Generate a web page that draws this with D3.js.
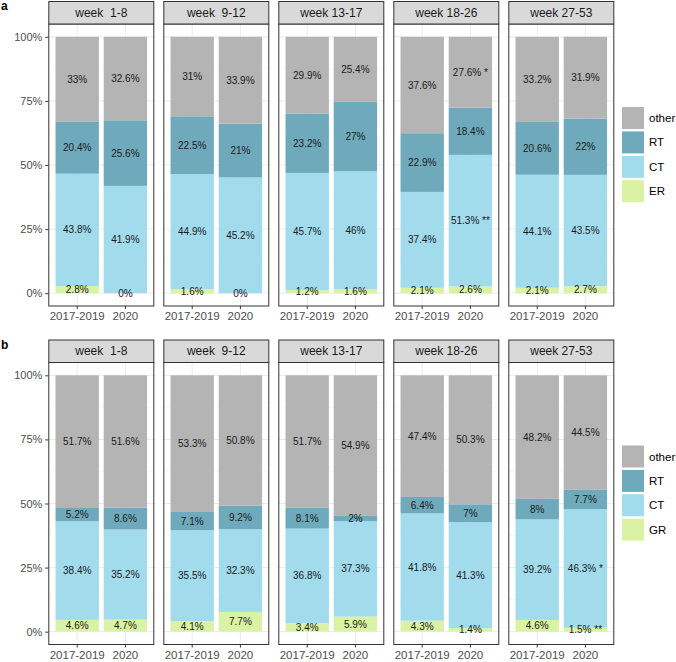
<!DOCTYPE html>
<html><head><meta charset="utf-8">
<script src="https://cdn.jsdelivr.net/npm/d3@7"></script>
<style>body{margin:0;background:#fff} svg{font-family:"Liberation Sans", Arial, sans-serif}</style>
</head><body><svg id="c" width="676" height="662"></svg>
<script>
// ---------- DATA ----------
const weeks = ["week  1-8", "week  9-12", "week 13-17", "week 18-26", "week 27-53"];
const periods = ["2017-2019", "2020"];
const yTicks = [0, 0.25, 0.5, 0.75, 1];

// Panel a (stack order bottom -> top): ER, CT, RT, other ; values ordered week-major, period-minor
const catsA = ["ER", "CT", "RT", "other"];
const aER    = [2.8, 0,    1.6, 0,    1.2, 1.6,  2.1, 2.6,  2.1, 2.7];
const aCT    = [43.8, 41.9, 44.9, 45.2, 45.7, 46,  37.4, 51.3, 44.1, 43.5];
const aRT    = [20.4, 25.6, 22.5, 21,   23.2, 27,  22.9, 18.4, 20.6, 22];
const aOther = [33,  32.6,  31,  33.9,  29.9, 25.4, 37.6, 27.6, 33.2, 31.9];
const aMarks = {CT: ["", "", "", "", "", "", "", " **", "", ""],
                other: ["", "", "", "", "", "", "", " *", "", ""]};

// Panel b: GR, CT, RT, other
const catsB = ["GR", "CT", "RT", "other"];
const bGR    = [4.6, 4.7,  4.1, 7.7,  3.4, 5.9,  4.3, 1.4,  4.6, 1.5];
const bCT    = [38.4, 35.2, 35.5, 32.3, 36.8, 37.3, 41.8, 41.3, 39.2, 46.3];
const bRT    = [5.2, 8.6,  7.1, 9.2,  8.1, 2,    6.4, 7,    8, 7.7];
const bOther = [51.7, 51.6, 53.3, 50.8, 51.7, 54.9, 47.4, 50.3, 48.2, 44.5];
const bMarks = {GR: ["", "", "", "", "", "", "", "", "", " **"],
                CT: ["", "", "", "", "", "", "", "", "", " *"]};

const colors = {other: "#b4b4b4", RT: "#6eaabb", CT: "#a1dbec", ER: "#daf2a4", GR: "#daf2a4"};

// ---------- DRAW ----------
const svg = d3.select("#c");

function drawPanel(top, tag, cats, series, marks) {
  const g = svg.append("g");
  const stripH = 23, plotTop = top + stripH, plotBottom = top + 305;
  const fx = d3.scaleBand().domain(weeks).range([48.3, 614.3]).paddingInner(9 / 115).paddingOuter(0);
  const xb = d3.scaleBand().domain(periods).range([0, fx.bandwidth()]).paddingInner(0.1).paddingOuter(0.15);
  const y = d3.scaleLinear().domain([-0.05, 1.05]).range([plotBottom, plotTop]);

  // panel label
  g.append("text").attr("x", 1).attr("y", top + 9).attr("font-weight", "bold").attr("font-size", 12)
    .attr("fill", "#000").text(tag);

  weeks.forEach((w, wi) => {
    const x0 = fx(w), W = fx.bandwidth();
    const pg = g.append("g").attr("transform", `translate(${x0},0)`);
    // background
    pg.append("rect").attr("x", 0).attr("y", plotTop).attr("width", W).attr("height", plotBottom - plotTop).attr("fill", "#fff");
    // minor grid
    [0.125, 0.375, 0.625, 0.875].forEach(t => {
      pg.append("line").attr("x1", 0).attr("x2", W).attr("y1", y(t)).attr("y2", y(t)).attr("stroke", "#f2f2f2").attr("stroke-width", 0.5);
    });
    // major grid
    yTicks.forEach(t => {
      pg.append("line").attr("x1", 0).attr("x2", W).attr("y1", y(t)).attr("y2", y(t)).attr("stroke", "#ebebeb").attr("stroke-width", 1);
    });
    periods.forEach(p => {
      const cx = xb(p) + xb.bandwidth() / 2;
      pg.append("line").attr("x1", cx).attr("x2", cx).attr("y1", plotTop).attr("y2", plotBottom).attr("stroke", "#ebebeb").attr("stroke-width", 1);
    });
    // bars
    periods.forEach((p, pi) => {
      const idx = wi * 2 + pi;
      const vals = cats.map(c => series[c][idx]);
      const total = d3.sum(vals);
      let cum = 0;
      cats.forEach((c, ci) => {
        const v = vals[ci] / total;
        const y1 = cum, y2 = cum + v;
        cum = y2;
        pg.append("rect").attr("x", xb(p)).attr("width", xb.bandwidth())
          .attr("y", y(y2)).attr("height", Math.max(0, y(y1) - y(y2))).attr("fill", colors[c]);
      });
      cum = 0;
      cats.forEach((c, ci) => {
        const v = vals[ci] / total;
        const mid = cum + v / 2;
        cum += v;
        const mk = marks[c] ? marks[c][idx] : "";
        pg.append("text").attr("x", xb(p) + xb.bandwidth() / 2).attr("y", y(mid)).attr("dy", "0.35em")
          .attr("text-anchor", "middle").attr("font-size", 10).attr("fill", "#1a1a1a")
          .text(vals[ci] + "%" + mk);
      });
    });
    // border
    pg.append("rect").attr("x", 0.5).attr("y", plotTop).attr("width", W - 1).attr("height", plotBottom - plotTop)
      .attr("fill", "none").attr("stroke", "#333").attr("stroke-width", 1);
    // strip
    pg.append("rect").attr("x", 0.5).attr("y", top + 0.5).attr("width", W - 1).attr("height", stripH - 0.5)
      .attr("fill", "#d9d9d9").attr("stroke", "#333").attr("stroke-width", 1);
    pg.append("text").attr("x", W / 2).attr("y", top + stripH / 2 + 4.3).attr("text-anchor", "middle")
      .attr("font-size", 12).attr("fill", "#1a1a1a").style("white-space", "pre").text(w);
    // x axis
    const xa = pg.append("g").attr("transform", `translate(0,${plotBottom})`)
      .call(d3.axisBottom(xb).tickSize(3).tickPadding(3));
    xa.select(".domain").remove();
    xa.selectAll("line").attr("stroke", "#333");
    xa.selectAll("text").attr("font-size", 11.5).attr("fill", "#4d4d4d").attr("font-family", "Liberation Sans, Arial, sans-serif");
  });

  // y axis
  const ya = g.append("g").attr("transform", `translate(${fx(weeks[0])},0)`)
    .call(d3.axisLeft(y).tickValues(yTicks).tickFormat(d3.format(".0%")).tickSize(3).tickPadding(3));
  ya.select(".domain").remove();
  ya.selectAll("line").attr("stroke", "#333");
  ya.selectAll("text").attr("font-size", 11).attr("fill", "#4d4d4d").attr("font-family", "Liberation Sans, Arial, sans-serif");

  // legend (top -> bottom: reversed stack order)
  const legCats = cats.slice().reverse();
  const lg = g.append("g").attr("transform", `translate(622,${top + 106})`);
  legCats.forEach((c, i) => {
    lg.append("rect").attr("x", 0).attr("y", i * 24.4).attr("width", 22).attr("height", 22).attr("fill", colors[c]);
    lg.append("text").attr("x", 27).attr("y", i * 24.4 + 11).attr("dy", "0.35em").attr("font-size", 11.5)
      .attr("fill", "#000").text(c);
  });
}

drawPanel(1, "a", catsA, {ER: aER, CT: aCT, RT: aRT, other: aOther}, aMarks);
drawPanel(339.5, "b", catsB, {GR: bGR, CT: bCT, RT: bRT, other: bOther}, bMarks);
</script></body></html>
